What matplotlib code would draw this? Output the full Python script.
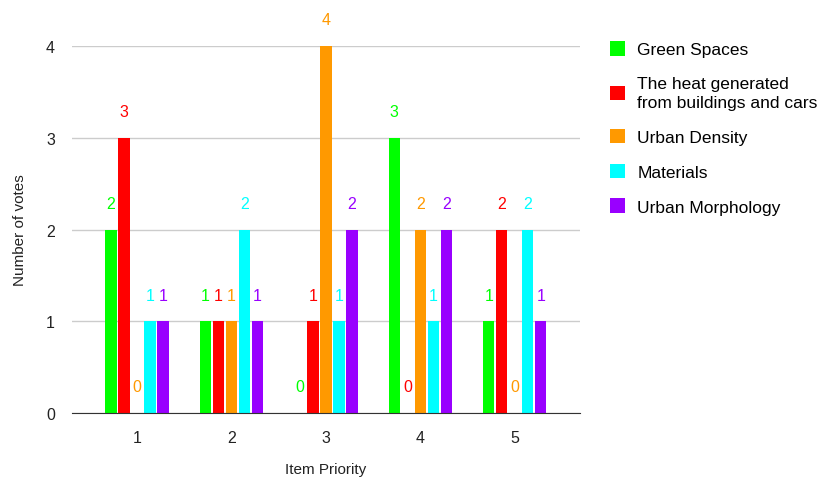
import matplotlib
matplotlib.use('Agg')
import matplotlib.pyplot as plt
import numpy as np

plt.rcParams['font.family'] = ['Liberation Sans', 'DejaVu Sans']

categories = ['1', '2', '3', '4', '5']
series_names = ['Green Spaces', 'The heat generated\nfrom buildings and cars',
                'Urban Density', 'Materials', 'Urban Morphology']
green_spaces = [2, 1, 0, 3, 1]
heat_generated = [3, 1, 1, 0, 2]
urban_density = [0, 1, 4, 2, 0]
materials = [1, 2, 1, 1, 2]
urban_morphology = [1, 1, 2, 2, 1]
colors = ['#00ff00', '#ff0000', '#ff9900', '#00ffff', '#9900ff']

all_series = [green_spaces, heat_generated, urban_density, materials, urban_morphology]

fig = plt.figure(figsize=(8.25, 4.85), dpi=100)
ax = fig.add_axes([0.087, 0.146, 0.616, 0.757])

x = np.arange(len(categories))
pitch = 0.1375
width = 0.12
for i, (vals, col, name) in enumerate(zip(all_series, colors, series_names)):
    pos = x + (i - 2) * pitch
    ax.bar(pos, vals, width=width, color=col, label=name, zorder=3)
    for px, v in zip(pos, vals):
        ax.annotate(str(v), (px, v), xytext=(0, 19), textcoords='offset points',
                    ha='center', va='center', color=col, fontsize=11.5,
                    annotation_clip=False)

ax.set_xlim(-0.69, 4.69)
ax.set_ylim(0, 4)
ax.set_yticks([0, 1, 2, 3, 4])
ax.set_xticks(x)
ax.set_xticklabels(categories)
ax.grid(axis='y', color='#cccccc', linewidth=1, zorder=0)
for s in ['top', 'right', 'left']:
    ax.spines[s].set_visible(False)
ax.spines['bottom'].set_color('#333333')
ax.spines['bottom'].set_zorder(4)
ax.tick_params(axis='both', length=0, labelsize=11.5, colors='#222222')
ax.tick_params(axis='y', pad=12)
ax.tick_params(axis='x', pad=12)
ax.set_xlabel('Item Priority', fontsize=11, color='#222222', labelpad=12)
ax.set_ylabel('Number of votes', fontsize=11, color='#222222', labelpad=14)

handles, labels = ax.get_legend_handles_labels()
leg = fig.legend(handles, labels, loc='upper left', bbox_to_anchor=(0.72, 0.945),
                 frameon=False, fontsize=12.5, handlelength=0.9, handleheight=0.9,
                 handletextpad=0.7, labelspacing=1.08)
for t in leg.get_texts():
    t.set_linespacing(1.3)

fig.savefig('out.png', dpi=100)
